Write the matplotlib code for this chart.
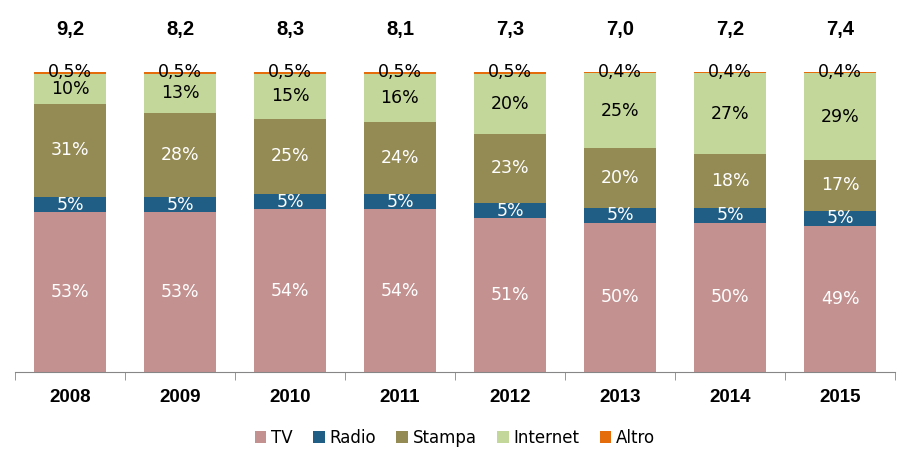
import numpy as np
import matplotlib.pyplot as plt

years = ['2008', '2009', '2010', '2011', '2012', '2013', '2014', '2015']
totals = ['9,2', '8,2', '8,3', '8,1', '7,3', '7,0', '7,2', '7,4']

tv = [53, 53, 54, 54, 51, 50, 50, 49]
radio = [5, 5, 5, 5, 5, 5, 5, 5]
stampa = [31, 28, 25, 24, 23, 20, 18, 17]
internet = [10, 13, 15, 16, 20, 25, 27, 29]
altro = [0.5, 0.5, 0.5, 0.5, 0.5, 0.4, 0.4, 0.4]

series = ['TV', 'Radio', 'Stampa', 'Internet', 'Altro']
colors = ['#C39190', '#215E86', '#948A54', '#C4D79B', '#E46C0A']
text_colors = ['white', 'white', 'white', 'black', 'black']

vals = np.array([tv, radio, stampa, internet, altro], dtype=float)
# 100% stacked: shares of the yearly sum
shares = vals / vals.sum(axis=0) * 100

fig = plt.figure(figsize=(9.08, 4.55), dpi=100)
ax = fig.add_axes([15 / 908, 1 - 372 / 455, 880 / 908, 300 / 455])

x = np.arange(len(years))
bottom = np.zeros(len(years))
for i, name in enumerate(series):
    ax.bar(x, shares[i], 0.66, bottom=bottom, color=colors[i], label=name, zorder=2)
    for j in range(len(years)):
        if name == 'Altro':
            txt = ('%.1f%%' % vals[i, j]).replace('.', ',')
            ypos = 100
        else:
            txt = '%d%%' % vals[i, j]
            ypos = bottom[j] + shares[i, j] / 2
        ax.text(x[j], ypos, txt, ha='center', va='center', fontsize=12.5,
                color=text_colors[i], family='DejaVu Sans', zorder=3)
    bottom += shares[i]

for j, t in enumerate(totals):
    ax.text(x[j], 114, t, ha='center', va='center', fontsize=14.5,
            fontweight='bold', family='Liberation Sans', clip_on=False)

ax.set_xlim(-0.5, len(years) - 0.5)
ax.set_ylim(0, 100)
for s in ['top', 'right', 'left']:
    ax.spines[s].set_visible(False)
ax.spines['bottom'].set_color('#868686')
ax.set_yticks([])
ax.set_xticks(x)
ax.set_xticklabels(years, fontsize=13.5, fontweight='bold', family='Liberation Sans')
ax.tick_params(axis='x', which='major', length=0, pad=12)
ax.set_xticks(np.arange(-0.5, len(years)), minor=True)
ax.tick_params(axis='x', which='minor', length=6, color='#868686')

ax.legend(loc='center', bbox_to_anchor=(0.5, -0.22), ncol=5, frameon=False,
          prop={'family': 'DejaVu Sans', 'size': 12}, handlelength=0.7,
          handleheight=0.7, handletextpad=0.3, columnspacing=1.2)

fig.savefig('out.png', dpi=100)
